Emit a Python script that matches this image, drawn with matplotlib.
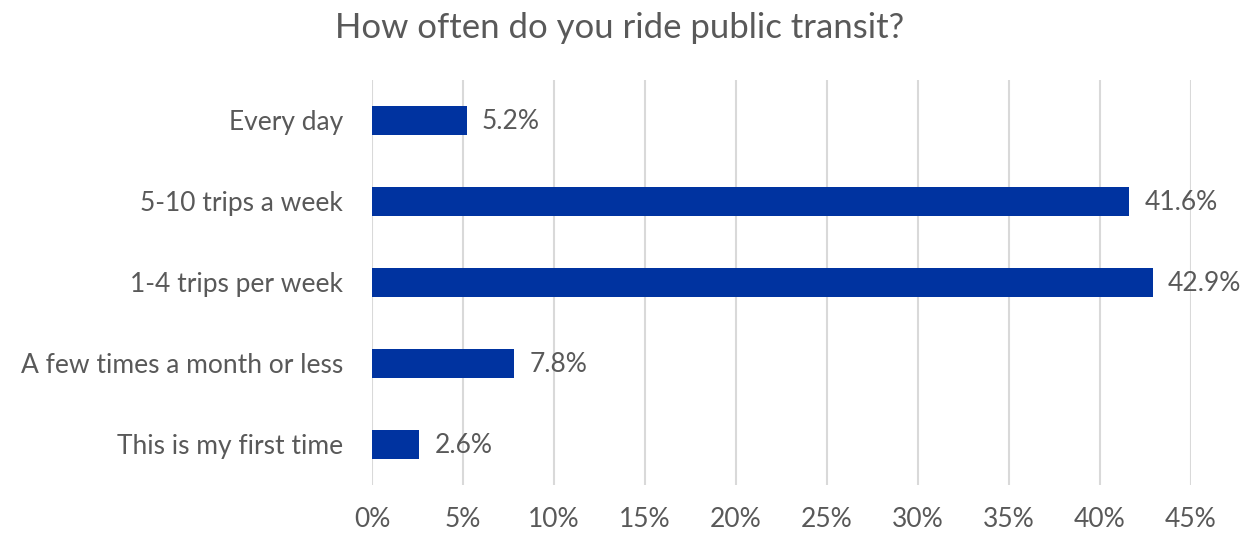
import matplotlib.pyplot as plt
from matplotlib.ticker import PercentFormatter

categories = ['Every day', '5-10 trips a week', '1-4 trips per week',
              'A few times a month or less', 'This is my first time']
shares = [5.2, 41.6, 42.9, 7.8, 2.6]
ticks = [0, 5, 10, 15, 20, 25, 30, 35, 40, 45]

plt.rcParams['font.family'] = ['Lato', 'DejaVu Sans']
grey = '#595959'

fig = plt.figure(figsize=(12.45, 5.35), dpi=100)
ax = fig.add_axes([0.2988, 0.0935, 0.6578, 0.757])

pos = list(range(len(categories)))
ax.barh(pos, shares, height=0.35, color='#0033A0', zorder=3)
for y, v in zip(pos, shares):
    ax.annotate(f'{v:.1f}%', (v, y), xytext=(11, -1), textcoords='offset points',
                va='center', ha='left', fontsize=19, color=grey)

ax.set_ylim(len(categories) - 0.5, -0.5)
ax.set_xlim(0, 45)
ax.set_xticks(ticks)
ax.xaxis.set_major_formatter(PercentFormatter(decimals=0))
ax.set_yticks(pos)
ax.set_yticklabels(categories, fontsize=19.4)
ax.tick_params(axis='both', length=0, labelsize=19, labelcolor=grey)
ax.tick_params(axis='y', pad=21)
ax.tick_params(axis='x', pad=16)
ax.grid(axis='x', color='#D9D9D9', linewidth=1.5, zorder=0)
for s in ax.spines.values():
    s.set_visible(False)

fig.suptitle('How often do you ride public transit?', x=0.498, y=0.978,
             va='top', fontsize=25, color=grey)
fig.savefig('out.png', dpi=100)
